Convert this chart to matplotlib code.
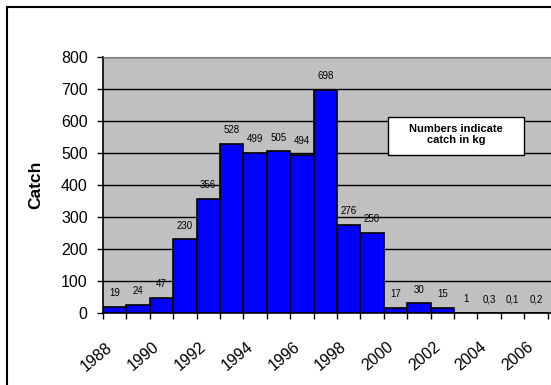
import matplotlib
matplotlib.use("Agg")
import matplotlib.pyplot as plt
from matplotlib.patches import Rectangle
from matplotlib.transforms import ScaledTranslation

years = list(range(1988, 2007))
catch = [19, 24, 47, 230, 356, 528, 499, 505, 494, 698, 276, 250, 17, 30, 15, 1, 0.3, 0.1, 0.2]
year_labels = [str(y) for y in range(1988, 2008, 2)]

plt.rcParams['font.family'] = ['Liberation Sans', 'DejaVu Sans']

fig = plt.figure(figsize=(5.51, 3.85), dpi=100)
ax = fig.add_axes([103 / 551, 72 / 385, 468 / 551, 256 / 385])
ax.set_facecolor('#c0c0c0')

x = list(range(len(catch)))
ax.bar(x, catch, width=1.0, color='#0000ff', edgecolor='black', linewidth=1.2, zorder=3)

# value labels above each bar, comma decimals
for xi, v in zip(x, catch):
    txt = ('%g' % v).replace('.', ',')
    ax.annotate(txt, (xi, v), xytext=(0, 10), textcoords='offset points',
                ha='center', va='center', fontsize=7, zorder=4)

ax.set_xlim(-0.5, 19.5)
ax.set_ylim(0, 800)
ax.set_yticks(range(0, 900, 100))
ax.yaxis.grid(True, color='black', linewidth=1.0, zorder=1)
ax.tick_params(axis='y', labelsize=11.5, length=4, width=1, pad=7)

ax.set_xticks([i * 2 for i in range(len(year_labels))])
ax.set_xticklabels(year_labels, rotation=40, ha='right', rotation_mode='anchor', fontsize=11.5)
ax.tick_params(axis='x', which='major', length=0, pad=19)
ax.set_xticks([i - 0.5 for i in range(21)], minor=True)
ax.tick_params(axis='x', which='minor', length=4, width=1)
shift = ScaledTranslation(-0.09, 0, fig.dpi_scale_trans)
for lab in ax.get_xticklabels():
    lab.set_transform(lab.get_transform() + shift)

ax.set_ylabel('Catch', fontsize=12.5, fontweight='bold', labelpad=13)

for side in ['top', 'right']:
    ax.spines[side].set_color('#808080')
for side in ['left', 'bottom']:
    ax.spines[side].set_color('black')
    ax.spines[side].set_linewidth(1.2)

# note box
ax.add_patch(Rectangle((0.609, 0.617), 0.291, 0.149, transform=ax.transAxes,
                       facecolor='white', edgecolor='black', linewidth=1, zorder=5))
ax.text(0.755, 0.698, 'Numbers indicate\ncatch in kg', transform=ax.transAxes,
        ha='center', va='center', fontsize=8, fontweight='bold', zorder=6)

fig.patches.append(Rectangle((7 / 551, -0.1), 1.2, (385 - 7) / 385 + 0.1, fill=False,
                             edgecolor='black', linewidth=1.5, transform=fig.transFigure))

fig.savefig('out.png', dpi=100)
